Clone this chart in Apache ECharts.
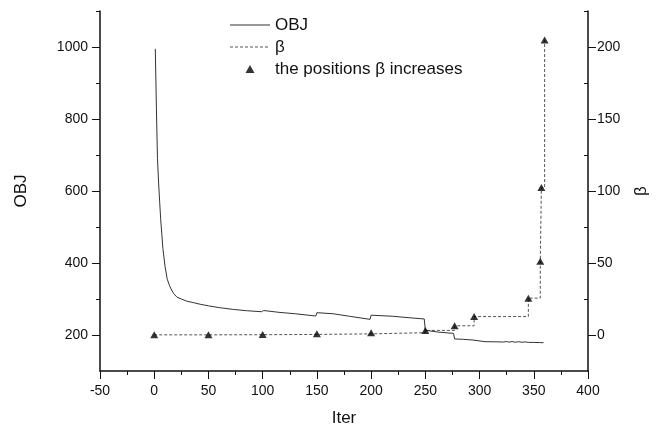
<!DOCTYPE html>
<html>
<head>
<meta charset="utf-8">
<script src="https://cdn.jsdelivr.net/npm/echarts@6/dist/echarts.min.js"></script>
<style>
html,body{margin:0;padding:0;background:#fff;}
#chart{width:661px;height:432px;}
</style>
</head>
<body>
<div id="chart"></div>
<script>
// OBJ curve (iteration, objective value)
var objIter = [1,2,3,4,5,6,7,8,10,12,14,16,18,21,25,30,36,43,50,60,73,85,99,100,101,115,130,149,150,151,165,180,199,200,201,220,235,249,250,251,262,276,277,285,294,295,305,315,322,325,327,330,333,336,339,342,345,350,355,359];
var objValue = [995,830,690,625,570,520,480,440,390,355,338,325,315,305,300,294,290,285,281,276,271,267.5,264.7,269,268,263,259,252.7,262,264.7,259,252,243.5,255,257.4,252,248,244.5,213,211,208,204.6,189,188,186,182,181.5,181,180.5,181.8,180.2,181.6,180,181.4,179.8,180.8,179.6,179.3,179,178.6];
// beta (step) and the positions where beta increases
var betaIter = [0,50,100,150,200,250,277,295,345,356,357,360];
var betaValue = [0.1,0.2,0.4,0.8,1.6,3.2,6.4,12.8,25.6,51.2,102.4,204.8];
// tick labels
var xTicks = [-50,0,50,100,150,200,250,300,350,400];
var objTicks = [200,400,600,800,1000];
var objMinor = [300,500,700,900,1100];
var betaTicks = [0,50,100,150,200];
var betaMinor = [25,75,125,175,225];

var FONT = '"Liberation Sans", Arial, sans-serif';
var INK = '#111';

function pairs(xs, ys){ return xs.map(function(x,i){ return [x, ys[i]]; }); }

// legend icons (40x14 box)
var BOX = 'M0,0M40,14';
var solidIcon = 'path://' + BOX + 'M0,6.5L40,6.5L40,7.5L0,7.5Z';
var dashIcon = 'path://' + BOX;
for (var dx = 0; dx < 40; dx += 5) {
  var e = Math.min(dx + 3, 40);
  dashIcon += 'M' + dx + ',6.5L' + e + ',6.5L' + e + ',7.5L' + dx + ',7.5Z';
}
var triIcon = 'path://' + BOX + 'M15.5,11L20,3L24.5,11Z';

var plain = function(v){ return String(v); };

var chart = echarts.init(document.getElementById('chart'), null, {renderer:'canvas'});
chart.setOption({
  animation: false,
  backgroundColor: '#fff',
  textStyle: {fontFamily: FONT},
  grid: {left: 100, right: 73, top: 11, bottom: 61, containLabel: false, outerBoundsMode: 'none'},
  legend: {
    left: 225, top: 9, orient: 'vertical',
    itemWidth: 40, itemHeight: 14, itemGap: 0,
    selectedMode: false,
    textStyle: {fontSize: 17, fontFamily: FONT, color: INK, lineHeight: 22},
    data: [
      {name: 'OBJ', icon: solidIcon, itemStyle: {color: '#333', borderWidth: 0}},
      {name: 'β', icon: dashIcon, itemStyle: {color: '#555', borderWidth: 0}},
      {name: 'the positions β increases', icon: triIcon, itemStyle: {color: '#000', borderWidth: 0}}
    ]
  },
  xAxis: {
    type: 'value', min: -50, max: 400, interval: 50,
    name: 'Iter', nameLocation: 'middle', nameGap: 39,
    nameTextStyle: {fontSize: 17, color: INK, fontFamily: FONT},
    axisLine: {onZero: false, lineStyle: {color: INK, width: 1.5}},
    axisTick: {length: 8, lineStyle: {color: INK, width: 1}},
    minorTick: {show: true, splitNumber: 2, length: 4, lineStyle: {color: INK, width: 1}},
    axisLabel: {fontSize: 14, color: INK, fontFamily: FONT, margin: 13,
      customValues: xTicks, formatter: plain},
    splitLine: {show: false}
  },
  yAxis: [
    {
      type: 'value', position: 'left', min: 100, max: 1100,
      name: 'OBJ', nameLocation: 'middle', nameGap: 70, nameRotate: 90,
      nameTextStyle: {fontSize: 17, color: INK, fontFamily: FONT},
      axisLine: {show: true, onZero: false, lineStyle: {color: INK, width: 1.5}},
      axisTick: {show: true, length: 8, customValues: objTicks, lineStyle: {color: INK, width: 1}},
      axisLabel: {fontSize: 14, color: INK, fontFamily: FONT, margin: 12, customValues: objTicks, formatter: plain},
      splitLine: {show: false}
    },
    {
      type: 'value', position: 'right', min: -25, max: 225,
      name: 'β', nameLocation: 'middle', nameGap: 45, nameRotate: 90,
      nameTextStyle: {fontSize: 17, color: INK, fontFamily: FONT},
      axisLine: {show: true, onZero: false, lineStyle: {color: INK, width: 1.5}},
      axisTick: {show: true, length: 8, customValues: betaTicks, lineStyle: {color: INK, width: 1}},
      axisLabel: {fontSize: 14, color: INK, fontFamily: FONT, margin: 9, customValues: betaTicks, formatter: plain},
      splitLine: {show: false}
    },
    {
      type: 'value', position: 'left', min: 100, max: 1100,
      axisLine: {show: false, onZero: false},
      axisTick: {show: true, length: 4, customValues: objMinor, lineStyle: {color: INK, width: 1}},
      axisLabel: {show: false},
      splitLine: {show: false}
    },
    {
      type: 'value', position: 'right', min: -25, max: 225,
      axisLine: {show: false, onZero: false},
      axisTick: {show: true, inside: true, length: 4, customValues: betaMinor, lineStyle: {color: INK, width: 1}},
      axisLabel: {show: false},
      splitLine: {show: false}
    }
  ],
  series: [
    {
      name: 'OBJ', type: 'line', yAxisIndex: 0,
      data: pairs(objIter, objValue),
      symbol: 'none', showSymbol: false,
      lineStyle: {color: '#333', width: 1},
      itemStyle: {color: '#333'},
      z: 3
    },
    {
      name: 'β', type: 'line', yAxisIndex: 1, step: 'end',
      data: pairs(betaIter, betaValue),
      symbol: 'none', showSymbol: false,
      lineStyle: {color: '#555', width: 1, type: [3, 2]},
      itemStyle: {color: '#555'},
      z: 2
    },
    {
      name: 'the positions β increases', type: 'scatter', yAxisIndex: 1,
      data: pairs(betaIter, betaValue),
      symbol: 'triangle', symbolSize: [8, 7],
      itemStyle: {color: '#000'},
      z: 4
    }
  ]
});
</script>
</body>
</html>
